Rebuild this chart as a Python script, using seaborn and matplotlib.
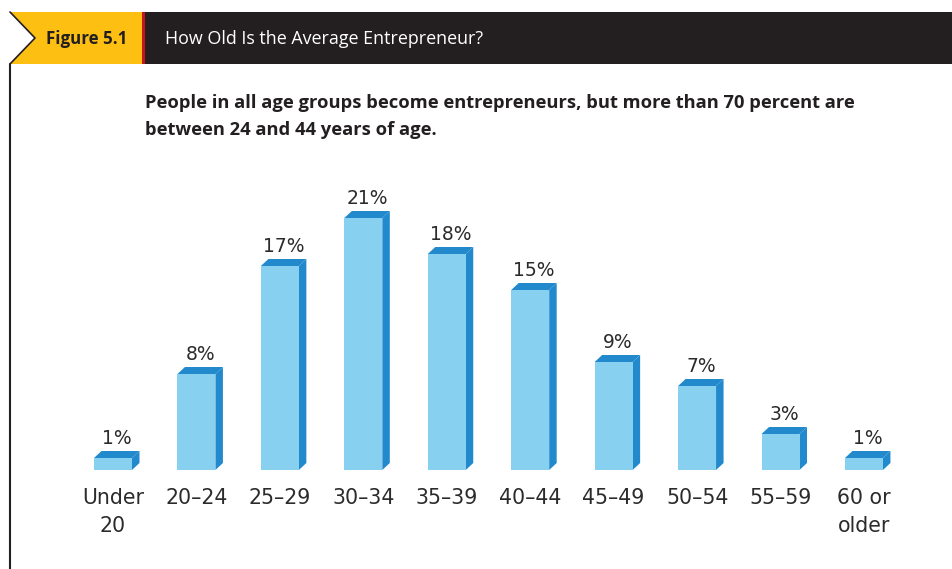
import matplotlib
matplotlib.use("Agg")
import matplotlib.pyplot as plt
from matplotlib.patches import Polygon, Rectangle
import seaborn as sns
import pandas as pd

categories = ["Under\n20", "20–24", "25–29", "30–34", "35–39", "40–44",
              "45–49", "50–54", "55–59", "60 or\nolder"]
values = [1, 8, 17, 21, 18, 15, 9, 7, 3, 1]
value_labels = ["1%", "8%", "17%", "21%", "18%", "15%", "9%", "7%", "3%", "1%"]

header_tag = "Figure 5.1"
header_title = "How Old Is the Average Entrepreneur?"
subtitle = ("People in all age groups become entrepreneurs, but more than 70 percent are\n"
            "between 24 and 44 years of age.")

FRONT = "#88d0f0"
SIDE = "#2289cc"
TEXT = "#2b2b2b"

sns.set_theme(style="white")
plt.rcParams['font.family'] = ['DejaVu Sans']

W, H = 953, 569
fig = plt.figure(figsize=(W / 100, H / 100), dpi=100)

# main axes: x=0 -> px 113, spacing 83.44 px; y=0 -> px 470, 12 px per %
unit = 83.44
left_px = 113 - 0.5 * unit
ax = fig.add_axes([left_px / W, (H - 470) / H, 10 * unit / W, 300 / H])
df = pd.DataFrame({"cat": categories, "val": values})
sns.barplot(data=df, x="cat", y="val", color=FRONT, saturation=1, width=0.455,
            linewidth=0, edgecolor="none", ax=ax, zorder=3)
ax.set_xlim(-0.5, 9.5)
ax.set_ylim(0, 25)
sns.despine(ax=ax, left=True, bottom=True)
ax.set_yticks([])
ax.set_xlabel("")
ax.set_ylabel("")
ax.tick_params(axis="x", length=0, pad=13, labelsize=14.8, labelcolor=TEXT)
for lab in ax.get_xticklabels():
    lab.set_linespacing(1.5)

dx = 7.5 / unit
dy = 7.0 / 12.0
for p, lbl in zip(ax.patches, value_labels):
    x0 = p.get_x()
    w = p.get_width()
    h = p.get_height()
    x1 = x0 + w
    side = Polygon([(x1, 0), (x1 + dx, dy), (x1 + dx, h + dy), (x1, h)],
                   closed=True, facecolor=SIDE, edgecolor="none", zorder=2)
    top = Polygon([(x0, h), (x0 + dx, h + dy), (x1 + dx, h + dy), (x1, h)],
                  closed=True, facecolor=SIDE, edgecolor="none", zorder=2)
    ax.add_patch(side)
    ax.add_patch(top)
    ax.annotate(lbl, (x0 + (w + dx) / 2, h + dy), xytext=(0, 2),
                textcoords="offset points", ha="center", va="bottom",
                fontsize=13.5, color=TEXT)

# overlay for header and frame in pixel coordinates
ov = fig.add_axes([0, 0, 1, 1], zorder=5)
ov.set_xlim(0, W)
ov.set_ylim(H, 0)
ov.axis("off")
ov.patch.set_visible(False)

ov.add_patch(Rectangle((145, 12), W - 145, 52, facecolor="#231f20", edgecolor="none"))
ov.add_patch(Polygon([(10, 12), (144, 12), (144, 64), (10, 64), (35, 38)], closed=True,
                     facecolor="#fdbf12", edgecolor="none"))
ov.plot([10, 35, 10], [12, 38, 64], color="#231f20", lw=1.2)
ov.add_patch(Rectangle((142, 12), 3.5, 52, facecolor="#c4161c", edgecolor="none"))
ov.plot([10.5, 10.5], [64, H], color="#231f20", lw=1.5)

ov.text(87, 39, header_tag, ha="center", va="center", fontsize=12.2,
        fontweight="bold", color="#231f20", family=["Open Sans", "DejaVu Sans"])
ov.text(165, 39, header_title, ha="left", va="center", fontsize=12.9,
        color="white", family=["Open Sans", "DejaVu Sans"])
ov.text(145, 116.5, subtitle, ha="left", va="center", fontsize=13.2,
        fontweight="bold", color="#231f20", linespacing=1.7,
        family=["Open Sans", "DejaVu Sans"])

fig.savefig("out.png", dpi=100)
